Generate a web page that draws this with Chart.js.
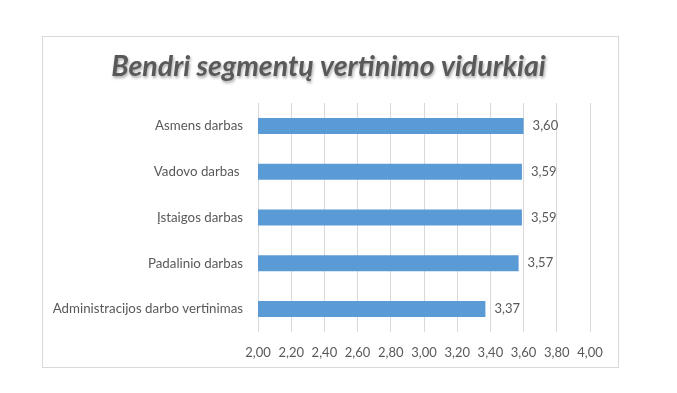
<!DOCTYPE html>
<html>
<head>
<meta charset="utf-8">
<script src="https://cdn.jsdelivr.net/npm/chart.js@4"></script>
<style>
  body { margin: 0; background: #fff; }
  #box {
    position: absolute; left: 42px; top: 36px;
    width: 575px; height: 330px;
    border: 1px solid #d9d9d9;
  }
</style>
</head>
<body>
<div id="box"><canvas id="chart" width="575" height="330"></canvas></div>
<script>
var categories = ["Asmens darbas", "Vadovo darbas ", "Įstaigos darbas", "Padalinio darbas", "Administracijos darbo vertinimas"];
var values = [3.60, 3.59, 3.59, 3.57, 3.37];
var titleText = "Bendri segmentų vertinimo vidurkiai";

function fmt(v) {
    return v.toFixed(2).replace('.', ',');
}

// title with a soft shadow, like the office chart
var titlePlugin = {
    id: 'shadowTitle',
    afterDraw: function(chart) {
        var c = chart.ctx;
        c.save();
        c.font = 'italic bold 28.5px Lato';
        c.fillStyle = '#595959';
        c.textAlign = 'center';
        c.textBaseline = 'middle';
        c.shadowColor = 'rgba(0,0,0,0.35)';
        c.shadowOffsetX = 1;
        c.shadowOffsetY = 2;
        c.shadowBlur = 3;
        c.fillText(titleText, chart.width / 2 - 2, 30);
        c.restore();
    }
};

// value labels at the end of each bar
var labelPlugin = {
    id: 'barLabels',
    afterDatasetsDraw: function(chart) {
        var c = chart.ctx;
        var meta = chart.getDatasetMeta(0);
        c.save();
        c.font = '13px Lato';
        c.fillStyle = '#595959';
        c.textAlign = 'left';
        c.textBaseline = 'middle';
        meta.data.forEach(function(bar, i) {
            c.fillText(fmt(values[i]), bar.x + 9, bar.y);
        });
        c.restore();
    }
};

var ctx = document.getElementById('chart').getContext('2d');
var chart = new Chart(ctx, {
    type: 'bar',
    data: {
        labels: categories,
        datasets: [{
            data: values,
            backgroundColor: '#5b9bd5',
            borderWidth: 0,
            categoryPercentage: 0.35,
            barPercentage: 1
        }]
    },
    options: {
        indexAxis: 'y',
        responsive: false,
        animation: false,
        layout: { padding: { top: 66, right: 28, bottom: 0, left: 0 } },
        plugins: {
            legend: { display: false },
            tooltip: { enabled: false },
            title: { display: false }
        },
        scales: {
            x: {
                min: 2, max: 4,
                border: { display: false },
                grid: { color: '#d9d9d9', drawTicks: false },
                ticks: {
                    stepSize: 0.2,
                    padding: 13,
                    color: '#595959',
                    font: { family: 'Lato', size: 13 },
                    callback: function(v) { return fmt(v); }
                },
                afterFit: function(s) { s.height = 35; }
            },
            y: {
                border: { display: false },
                grid: { display: false },
                ticks: {
                    padding: 7,
                    color: '#595959',
                    font: { family: 'Lato', size: 13.3 }
                },
                afterFit: function(s) { s.width = 215; }
            }
        }
    },
    plugins: [titlePlugin, labelPlugin]
});
</script>
</body>
</html>
